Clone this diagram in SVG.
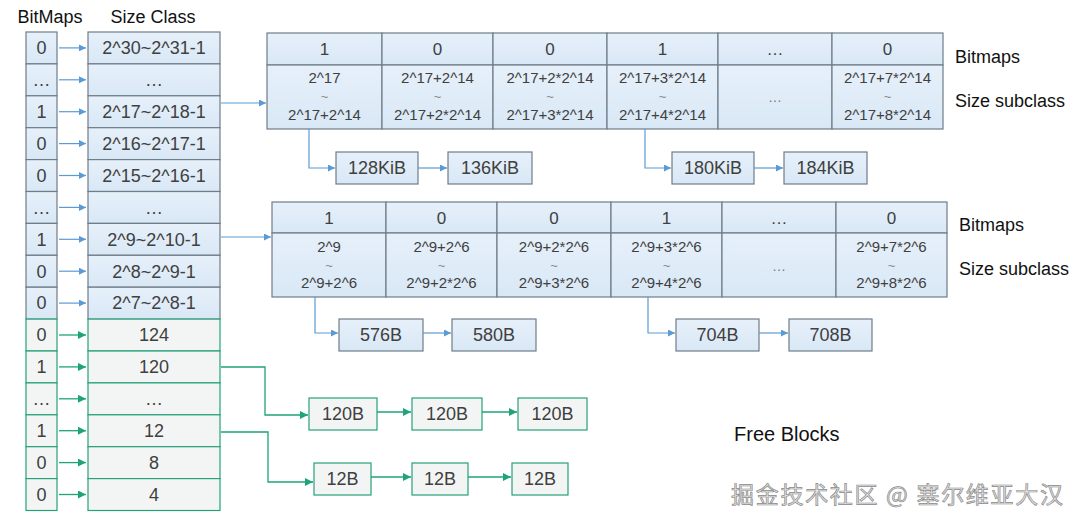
<svg xmlns="http://www.w3.org/2000/svg" width="1083" height="527" viewBox="0 0 1083 527">
<defs>
<linearGradient id="gb" x1="0" y1="0" x2="0" y2="1"><stop offset="0" stop-color="#E6F0FA"/><stop offset="1" stop-color="#D9E8F6"/></linearGradient>
<marker id="ab" viewBox="0 0 10 10" refX="10" refY="5" markerWidth="9" markerHeight="7" markerUnits="userSpaceOnUse" orient="auto"><path d="M0,0L10,5L0,10z" fill="#5B9BD5"/></marker>
<marker id="ag" viewBox="0 0 10 10" refX="10" refY="5" markerWidth="9" markerHeight="8" markerUnits="userSpaceOnUse" orient="auto"><path d="M0,0L10,5L0,10z" fill="#1FA37A"/></marker>
</defs>
<style>
text{font-family:"Liberation Sans",Arial,sans-serif;text-anchor:middle;fill:#404040}
.b{fill:url(#gb);stroke:#6F7C89;stroke-width:1.2}
.g{fill:#F3F5F5;stroke:#26A17B;stroke-width:1.2}
.t18{font-size:18px}
.t17{font-size:17px}
.t15{font-size:15px}
.til{font-size:13px;fill:#888}
.lab{font-size:18px;fill:#111;text-anchor:start}
.cb{fill:none;stroke:#5B9BD5;stroke-width:1.2;marker-end:url(#ab)}
.cg{fill:none;stroke:#1FA37A;stroke-width:1.3;marker-end:url(#ag)}
.el{font-size:14px;fill:#777}
</style>
<rect width="1083" height="527" fill="#FFFFFF"/>
<g id="headers">
<text x="50" y="23" class="t18" style="fill:#111">BitMaps</text>
<text x="153" y="23" class="t18" style="fill:#111">Size Class</text>
</g>
<g id="bitmaps">
<rect class="b" x="26" y="32" width="31" height="31.9"/><text x="41.5" y="54" class="t18">0</text>
<rect class="b" x="26" y="63.9" width="31" height="31.9"/><text x="41.5" y="86" class="t18">…</text>
<rect class="b" x="26" y="95.8" width="31" height="31.9"/><text x="41.5" y="118" class="t18">1</text>
<rect class="b" x="26" y="127.7" width="31" height="31.9"/><text x="41.5" y="150" class="t18">0</text>
<rect class="b" x="26" y="159.6" width="31" height="31.9"/><text x="41.5" y="181.5" class="t18">0</text>
<rect class="b" x="26" y="191.5" width="31" height="31.9"/><text x="41.5" y="213.5" class="t18">…</text>
<rect class="b" x="26" y="223.4" width="31" height="31.9"/><text x="41.5" y="245.5" class="t18">1</text>
<rect class="b" x="26" y="255.3" width="31" height="31.9"/><text x="41.5" y="277.5" class="t18">0</text>
<rect class="b" x="26" y="287.2" width="31" height="31.9"/><text x="41.5" y="309" class="t18">0</text>
<rect class="g" x="26" y="319.1" width="31" height="31.9"/><text x="41.5" y="341" class="t18">0</text>
<rect class="g" x="26" y="351" width="31" height="31.9"/><text x="41.5" y="373" class="t18">1</text>
<rect class="g" x="26" y="382.9" width="31" height="31.9"/><text x="41.5" y="405" class="t18">…</text>
<rect class="g" x="26" y="414.8" width="31" height="31.9"/><text x="41.5" y="437" class="t18">1</text>
<rect class="g" x="26" y="446.7" width="31" height="31.9"/><text x="41.5" y="468.5" class="t18">0</text>
<rect class="g" x="26" y="478.6" width="31" height="31.9"/><text x="41.5" y="500.5" class="t18">0</text>
</g>
<g id="sizeclass">
<rect class="b" x="88" y="32" width="132" height="31.9"/><text x="154" y="54" class="t18">2^30~2^31-1</text>
<rect class="b" x="88" y="63.9" width="132" height="31.9"/><text x="154" y="86" class="t18">…</text>
<rect class="b" x="88" y="95.8" width="132" height="31.9"/><text x="154" y="118" class="t18">2^17~2^18-1</text>
<rect class="b" x="88" y="127.7" width="132" height="31.9"/><text x="154" y="150" class="t18">2^16~2^17-1</text>
<rect class="b" x="88" y="159.6" width="132" height="31.9"/><text x="154" y="181.5" class="t18">2^15~2^16-1</text>
<rect class="b" x="88" y="191.5" width="132" height="31.9"/><text x="154" y="213.5" class="t18">…</text>
<rect class="b" x="88" y="223.4" width="132" height="31.9"/><text x="154" y="245.5" class="t18">2^9~2^10-1</text>
<rect class="b" x="88" y="255.3" width="132" height="31.9"/><text x="154" y="277.5" class="t18">2^8~2^9-1</text>
<rect class="b" x="88" y="287.2" width="132" height="31.9"/><text x="154" y="309" class="t18">2^7~2^8-1</text>
<rect class="g" x="88" y="319.1" width="132" height="31.9"/><text x="154" y="341" class="t18">124</text>
<rect class="g" x="88" y="351" width="132" height="31.9"/><text x="154" y="373" class="t18">120</text>
<rect class="g" x="88" y="382.9" width="132" height="31.9"/><text x="154" y="405" class="t18">…</text>
<rect class="g" x="88" y="414.8" width="132" height="31.9"/><text x="154" y="437" class="t18">12</text>
<rect class="g" x="88" y="446.7" width="132" height="31.9"/><text x="154" y="468.5" class="t18">8</text>
<rect class="g" x="88" y="478.6" width="132" height="31.9"/><text x="154" y="500.5" class="t18">4</text>
</g>
<g id="table17">
<rect class="b" x="267" y="33" width="115" height="32"/><text x="324.5" y="55" class="t17">1</text>
<rect class="b" x="382" y="33" width="111" height="32"/><text x="437.5" y="55" class="t17">0</text>
<rect class="b" x="493" y="33" width="114" height="32"/><text x="550" y="55" class="t17">0</text>
<rect class="b" x="607" y="33" width="111" height="32"/><text x="662.5" y="55" class="t17">1</text>
<rect class="b" x="718" y="33" width="114" height="32"/><text x="775" y="55" class="t17">…</text>
<rect class="b" x="832" y="33" width="111" height="32"/><text x="887.5" y="55" class="t17">0</text>
<rect class="b" x="267" y="65" width="115" height="64"/><text x="324.5" y="83" class="t15">2^17</text><text x="324.5" y="101" class="til">~</text><text x="324.5" y="120" class="t15">2^17+2^14</text>
<rect class="b" x="382" y="65" width="111" height="64"/><text x="437.5" y="83" class="t15">2^17+2^14</text><text x="437.5" y="101" class="til">~</text><text x="437.5" y="120" class="t15">2^17+2*2^14</text>
<rect class="b" x="493" y="65" width="114" height="64"/><text x="550" y="83" class="t15">2^17+2*2^14</text><text x="550" y="101" class="til">~</text><text x="550" y="120" class="t15">2^17+3*2^14</text>
<rect class="b" x="607" y="65" width="111" height="64"/><text x="662.5" y="83" class="t15">2^17+3*2^14</text><text x="662.5" y="101" class="til">~</text><text x="662.5" y="120" class="t15">2^17+4*2^14</text>
<rect class="b" x="718" y="65" width="114" height="64"/><text x="775" y="102" class="el">…</text>
<rect class="b" x="832" y="65" width="111" height="64"/><text x="887.5" y="83" class="t15">2^17+7*2^14</text><text x="887.5" y="101" class="til">~</text><text x="887.5" y="120" class="t15">2^17+8*2^14</text>
</g>
<g id="labels17">
<text x="955" y="63" class="lab">Bitmaps</text>
<text x="955" y="107" class="lab">Size subclass</text>
</g>
<g id="table9">
<rect class="b" x="272" y="202" width="114" height="31"/><text x="329" y="223.5" class="t17">1</text>
<rect class="b" x="386" y="202" width="111" height="31"/><text x="441.5" y="223.5" class="t17">0</text>
<rect class="b" x="497" y="202" width="114" height="31"/><text x="554" y="223.5" class="t17">0</text>
<rect class="b" x="611" y="202" width="111" height="31"/><text x="666.5" y="223.5" class="t17">1</text>
<rect class="b" x="722" y="202" width="114" height="31"/><text x="779" y="223.5" class="t17">…</text>
<rect class="b" x="836" y="202" width="111" height="31"/><text x="891.5" y="223.5" class="t17">0</text>
<rect class="b" x="272" y="233" width="114" height="64"/><text x="329" y="252" class="t15">2^9</text><text x="329" y="270" class="til">~</text><text x="329" y="288" class="t15">2^9+2^6</text>
<rect class="b" x="386" y="233" width="111" height="64"/><text x="441.5" y="252" class="t15">2^9+2^6</text><text x="441.5" y="270" class="til">~</text><text x="441.5" y="288" class="t15">2^9+2*2^6</text>
<rect class="b" x="497" y="233" width="114" height="64"/><text x="554" y="252" class="t15">2^9+2*2^6</text><text x="554" y="270" class="til">~</text><text x="554" y="288" class="t15">2^9+3*2^6</text>
<rect class="b" x="611" y="233" width="111" height="64"/><text x="666.5" y="252" class="t15">2^9+3*2^6</text><text x="666.5" y="270" class="til">~</text><text x="666.5" y="288" class="t15">2^9+4*2^6</text>
<rect class="b" x="722" y="233" width="114" height="64"/><text x="779" y="271" class="el">…</text>
<rect class="b" x="836" y="233" width="111" height="64"/><text x="891.5" y="252" class="t15">2^9+7*2^6</text><text x="891.5" y="270" class="til">~</text><text x="891.5" y="288" class="t15">2^9+8*2^6</text>
</g>
<g id="labels9">
<text x="959" y="231" class="lab">Bitmaps</text>
<text x="959" y="275" class="lab">Size subclass</text>
</g>
<g id="blk128"><rect class="b" x="336" y="152" width="82" height="32"/><text x="377" y="174" class="t18">128KiB</text></g>
<g id="blk136"><rect class="b" x="448" y="152" width="84" height="32"/><text x="490" y="174" class="t18">136KiB</text></g>
<g id="blk180"><rect class="b" x="672" y="152" width="82" height="32"/><text x="713" y="174" class="t18">180KiB</text></g>
<g id="blk184"><rect class="b" x="784" y="152" width="83" height="32"/><text x="825.5" y="174" class="t18">184KiB</text></g>
<g id="blk576"><rect class="b" x="339" y="319" width="84" height="32"/><text x="381" y="341" class="t18">576B</text></g>
<g id="blk580"><rect class="b" x="452" y="319" width="84" height="32"/><text x="494" y="341" class="t18">580B</text></g>
<g id="blk704"><rect class="b" x="676" y="319" width="83" height="32"/><text x="717.5" y="341" class="t18">704B</text></g>
<g id="blk708"><rect class="b" x="789" y="319" width="83" height="32"/><text x="830.5" y="341" class="t18">708B</text></g>
<g id="blk120a"><rect class="g" x="309" y="398" width="68" height="32"/><text x="343" y="420" class="t18">120B</text></g>
<g id="blk120b"><rect class="g" x="412" y="398" width="70" height="32"/><text x="447" y="420" class="t18">120B</text></g>
<g id="blk120c"><rect class="g" x="518" y="398" width="69" height="32"/><text x="552.5" y="420" class="t18">120B</text></g>
<g id="blk12a"><rect class="g" x="314" y="463" width="57" height="32"/><text x="342.5" y="485" class="t18">12B</text></g>
<g id="blk12b"><rect class="g" x="412" y="463" width="56" height="32"/><text x="440" y="485" class="t18">12B</text></g>
<g id="blk12c"><rect class="g" x="512" y="463" width="56" height="32"/><text x="540" y="485" class="t18">12B</text></g>
<g id="freeblocks"><text x="734" y="441" class="lab" style="font-size:20px">Free Blocks</text></g>
<g id="connectors">
<line class="cb" x1="59" y1="47.9" x2="86" y2="47.9"/>
<line class="cb" x1="59" y1="79.8" x2="86" y2="79.8"/>
<line class="cb" x1="59" y1="111.7" x2="86" y2="111.7"/>
<line class="cb" x1="59" y1="143.6" x2="86" y2="143.6"/>
<line class="cb" x1="59" y1="175.5" x2="86" y2="175.5"/>
<line class="cb" x1="59" y1="207.4" x2="86" y2="207.4"/>
<line class="cb" x1="59" y1="239.3" x2="86" y2="239.3"/>
<line class="cb" x1="59" y1="271.2" x2="86" y2="271.2"/>
<line class="cb" x1="59" y1="303.1" x2="86" y2="303.1"/>
<line class="cg" x1="59" y1="335" x2="86" y2="335"/>
<line class="cg" x1="59" y1="366.9" x2="86" y2="366.9"/>
<line class="cg" x1="59" y1="398.8" x2="86" y2="398.8"/>
<line class="cg" x1="59" y1="430.7" x2="86" y2="430.7"/>
<line class="cg" x1="59" y1="462.6" x2="86" y2="462.6"/>
<line class="cg" x1="59" y1="494.5" x2="86" y2="494.5"/>
<line class="cb" x1="221" y1="103" x2="266" y2="103"/>
<line class="cb" x1="221" y1="237" x2="271" y2="237"/>
<path class="cb" d="M309,129V168H335"/>
<line class="cb" x1="418" y1="168" x2="447" y2="168"/>
<path class="cb" d="M645,129V168H671"/>
<line class="cb" x1="754" y1="168" x2="783" y2="168"/>
<path class="cb" d="M315,297V333H338"/>
<line class="cb" x1="423" y1="333" x2="451" y2="333"/>
<path class="cb" d="M648,297V333H675"/>
<line class="cb" x1="759" y1="333" x2="788" y2="333"/>
<path class="cg" d="M221,367H265V415H308"/>
<line class="cg" x1="377" y1="412" x2="411" y2="412"/>
<line class="cg" x1="482" y1="412" x2="517" y2="412"/>
<path class="cg" d="M221,432H268V482H313"/>
<line class="cg" x1="371" y1="477" x2="411" y2="477"/>
<line class="cg" x1="468" y1="477" x2="511" y2="477"/>
</g>
<g id="watermark">
<text x="731" y="503" style="text-anchor:start;font-size:23px;font-family:'Noto Sans CJK SC','Liberation Sans',sans-serif;fill:#E4E4E4;stroke:#8A8A8A;stroke-width:0.7" textLength="332">掘金技术社区 @ 塞尔维亚大汉</text>
</g>
</svg>
